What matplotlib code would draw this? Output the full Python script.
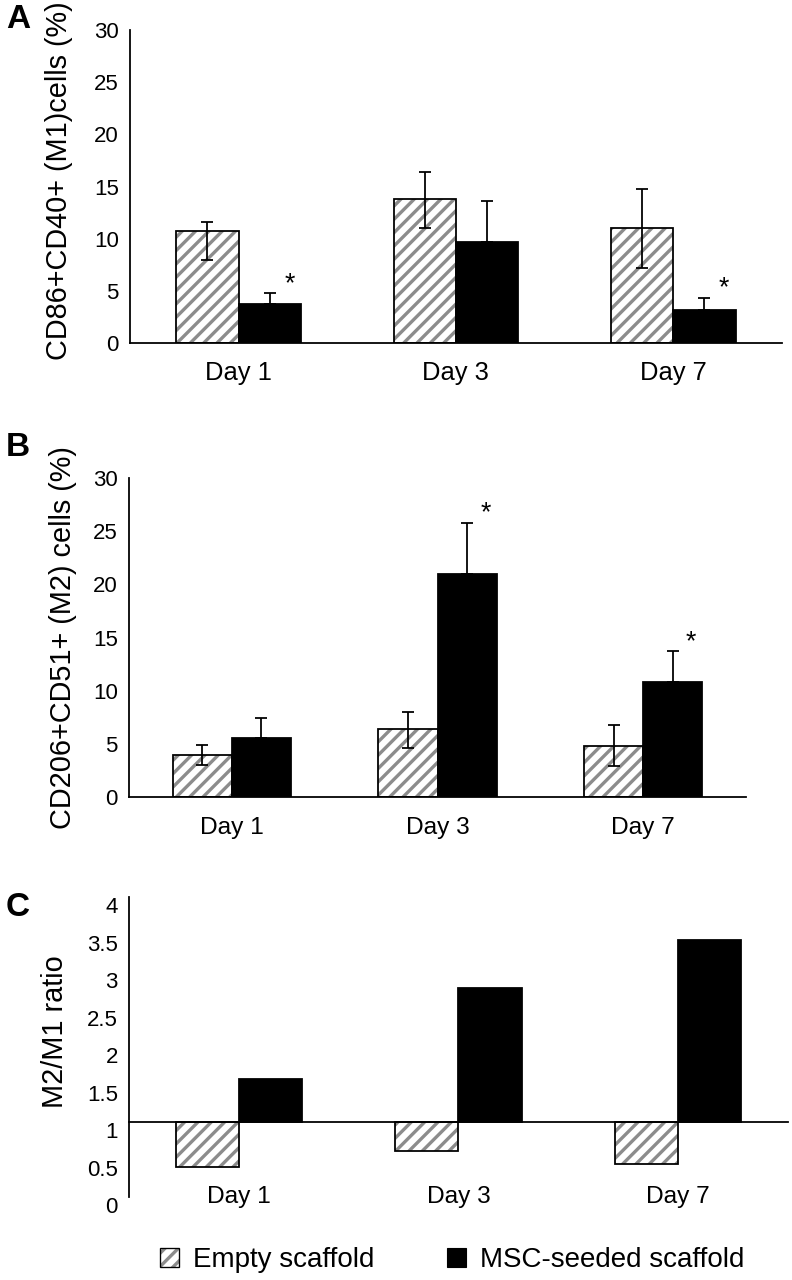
import numpy as np
import matplotlib
matplotlib.use('Agg')
import matplotlib.pyplot as plt
from matplotlib.patches import Patch
from matplotlib.legend_handler import HandlerTuple
from matplotlib.transforms import ScaledTranslation

plt.rcParams['font.family'] = ['Liberation Sans', 'DejaVu Sans']
plt.rcParams['hatch.linewidth'] = 3.0

days = ['Day 1', 'Day 3', 'Day 7']

# --- A: CD86+CD40+ (M1) cells, %
m1_empty = [10.7, 13.8, 11.0]
m1_empty_lo = [2.7, 2.8, 3.8]
m1_empty_hi = [0.9, 2.6, 3.75]
m1_msc = [3.7, 9.65, 3.2]
m1_msc_hi = [1.05, 3.95, 1.15]
m1_sig = [True, False, True]

# --- B: CD206+CD51+ (M2) cells, %
m2_empty = [3.95, 6.4, 4.83]
m2_empty_lo = [0.95, 1.75, 1.9]
m2_empty_hi = [0.9, 1.6, 1.9]
m2_msc = [5.58, 21.0, 10.85]
m2_msc_hi = [1.9, 4.8, 2.85]
m2_sig = [False, True, True]

# --- C: M2/M1 ratio
ratio_empty = [0.40, 0.61, 0.44]
ratio_msc = [1.57, 2.79, 3.43]

HATCH = '#8c8c8c'
W = 0.287
FS_TICK, FS_LAB = 20, 26

fig = plt.figure(figsize=(9.9, 16), dpi=80)
axA = fig.add_axes([0.1641, 0.732, 0.823, 0.2445])
axB = fig.add_axes([0.1629, 0.3773, 0.779, 0.2492])
axC = fig.add_axes([0.1629, 0.0648, 0.832, 0.2344])
x = np.arange(len(days))

def hatched(ax, xs, h, base=0):
    ax.bar(xs, h, W, bottom=base, color='white', edgecolor=HATCH, hatch='//', lw=0)
    ax.bar(xs, h, W, bottom=base, fill=False, edgecolor='k', lw=1.6)

def style(ax):
    for s in ['top', 'right']:
        ax.spines[s].set_visible(False)
    for s in ['left', 'bottom']:
        ax.spines[s].set_linewidth(1.6)
    ax.tick_params(length=0, labelsize=FS_TICK)
    ax.set_xlim(-0.5, 2.5)

def percent_panel(ax, emp, elo, ehi, msc, mhi, sig, ylabel, lx, ly, pad, fs_day):
    hatched(ax, x - W/2, emp)
    ax.bar(x + W/2, msc, W, color='k', edgecolor='k', lw=1.6)
    ax.errorbar(x - W/2, emp, yerr=[elo, ehi], fmt='none', ecolor='k',
                elinewidth=1.6, capsize=5.5, capthick=1.6)
    ax.errorbar(x + W/2, msc, yerr=[np.zeros(3), mhi], fmt='none', ecolor='k',
                elinewidth=1.6, capsize=5.5, capthick=1.6)
    for i, s in enumerate(sig):
        if s:
            ax.text(x[i] + W/2 + 0.09, msc[i] + mhi[i] + 0.9, '*',
                    ha='center', va='center', fontsize=24)
    style(ax)
    ax.set_ylim(0, 30)
    ax.set_yticks(range(0, 31, 5))
    ax.set_xticks(x)
    ax.set_xticklabels(days, fontsize=fs_day)
    ax.tick_params(axis='x', pad=pad)
    ax.tick_params(axis='y', pad=10)
    ax.set_ylabel(ylabel, fontsize=FS_LAB, va='center')
    ax.yaxis.set_label_coords(lx, ly)

percent_panel(axA, m1_empty, m1_empty_lo, m1_empty_hi, m1_msc, m1_msc_hi, m1_sig,
              'CD86+CD40+ (M1)cells (%)', -0.109, 0.52, 16, 23)
percent_panel(axB, m2_empty, m2_empty_lo, m2_empty_hi, m2_msc, m2_msc_hi, m2_sig,
              'CD206+CD51+ (M2) cells (%)', -0.107, 0.50, 18, 22)

# --- C: bars grow from the ratio = 1 line
hatched(axC, x - W/2, np.array(ratio_empty) - 1, base=1)
axC.bar(x + W/2, np.array(ratio_msc) - 1, W, bottom=1, color='k', edgecolor='k', lw=1.6)
style(axC)
axC.spines['bottom'].set_position(('data', 1))
axC.set_ylim(0, 4)
yt = np.arange(0, 4.01, 0.5)
axC.set_yticks(yt)
axC.set_yticklabels(['%g' % v for v in yt])
axC.tick_params(axis='y', pad=10)
off = ScaledTranslation(0, -8/80, fig.dpi_scale_trans)
for lab in axC.get_yticklabels():
    lab.set_transform(lab.get_transform() + off)
axC.set_xticks([])
for i, d in enumerate(days):
    axC.text(x[i], 0.0, d, ha='center', va='center', fontsize=22)
axC.set_ylabel('M2/M1 ratio', fontsize=FS_LAB, va='center')
axC.yaxis.set_label_coords(-0.112, 0.55)

# panel letters
for letter, yy in [('A', 20), ('B', 447), ('C', 908)]:
    fig.text(18/792, 1 - yy/1280, letter, ha='center', va='center',
             fontsize=30, fontweight='bold')

handles = [(Patch(facecolor='white', edgecolor=HATCH, hatch='//', lw=0),
            Patch(fill=False, edgecolor='k', lw=1.2)),
           Patch(facecolor='k', edgecolor='k')]
fig.legend(handles, ['Empty scaffold', 'MSC-seeded scaffold'],
           handler_map={tuple: HandlerTuple(ndivide=1, pad=0)},
           loc='center', bbox_to_anchor=(452/792, 1 - 1260/1280), ncol=2,
           frameon=False, fontsize=25, handlelength=0.7, handleheight=0.7,
           handletextpad=0.5, columnspacing=2.6, borderpad=0)

fig.savefig('out.png', dpi=80)
